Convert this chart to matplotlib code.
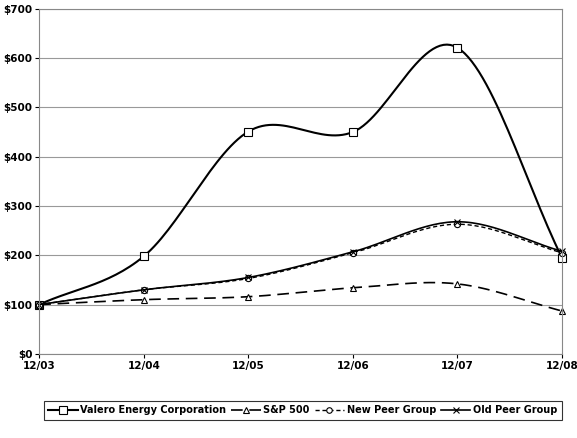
import numpy as np
import matplotlib
matplotlib.use("Agg")
import matplotlib.pyplot as plt

labels = ["12/03", "12/04", "12/05", "12/06", "12/07", "12/08"]
valero = [100, 198, 451, 450, 621, 195]
sp500 = [100, 110, 116, 134, 142, 87]
new_peer = [100, 130, 153, 205, 263, 205]
old_peer = [100, 130, 155, 207, 268, 208]

def smooth(y, n=30):
    y = np.asarray(y, float)
    x = np.arange(len(y), dtype=float)
    p = np.concatenate([[2*y[0]-y[1]], y, [2*y[-1]-y[-2]]])
    xs, ys = [], []
    for i in range(len(y)-1):
        p0, p1, p2, p3 = p[i], p[i+1], p[i+2], p[i+3]
        t = np.linspace(0, 1, n, endpoint=(i == len(y)-2))
        ys.append(0.5*((2*p1) + (-p0+p2)*t + (2*p0-5*p1+4*p2-p3)*t**2 + (-p0+3*p1-3*p2+p3)*t**3))
        xs.append(x[i] + t)
    return np.concatenate(xs), np.concatenate(ys)

fig = plt.figure(figsize=(5.77, 4.38), dpi=100)
ax = fig.add_axes([0.068, 0.192, 0.906, 0.788])
series = [
    ("Valero Energy Corporation", valero, "-", "s", 1.5, 6),
    ("S&P 500", sp500, (0, (7, 4)), "^", 1.2, 5),
    ("New Peer Group", new_peer, (0, (3, 2)), "o", 1.0, 4.5),
    ("Old Peer Group", old_peer, "-", "x", 1.2, 5),
]
x = np.arange(len(labels))
handles = []
for name, ys, ls, mk, lw, ms in series:
    sx, sy = smooth(ys)
    ax.plot(sx, sy, color="black", linestyle=ls, linewidth=lw, clip_on=False)
    ax.plot(x, ys, linestyle="none", marker=mk, markersize=ms, markerfacecolor="white",
            markeredgecolor="black", markeredgewidth=0.8, clip_on=False)
    h, = ax.plot([], [], color="black", linestyle=ls, linewidth=lw, marker=mk, markersize=ms - 0.5,
                 markerfacecolor="white", markeredgecolor="black", markeredgewidth=0.8)
    handles.append(h)

ax.set_xlim(0, 5)
ax.set_ylim(0, 700)
ax.set_yticks(range(0, 701, 100))
ax.set_yticklabels([f"${v}" for v in range(0, 701, 100)], fontsize=7.5, fontweight="bold")
ax.set_xticks(x)
ax.set_xticklabels(labels, fontsize=7.5, fontweight="bold")
ax.yaxis.grid(True, color="#999999", linewidth=0.8)
ax.set_axisbelow(True)
ax.tick_params(length=3, pad=2)
for s in ax.spines.values():
    s.set_color("#888888")

leg = fig.legend(handles, [s[0] for s in series], loc="center", bbox_to_anchor=(0.525, 0.063),
                 ncol=4, frameon=True, fancybox=False, edgecolor="black", handlelength=3,
                 columnspacing=0.5, handletextpad=0.3, borderpad=0.5,
                 prop={"size": 7, "weight": "bold"})
leg.get_frame().set_linewidth(0.8)
fig.savefig("out.png", dpi=100)
